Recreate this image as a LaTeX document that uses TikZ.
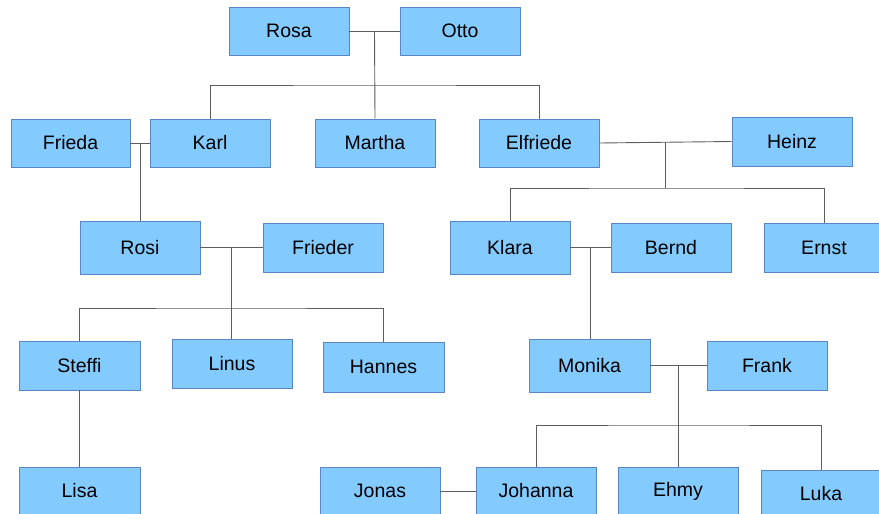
\documentclass[tikz,border=0pt]{standalone}
\usepackage{fontspec}
\setmainfont{Liberation Sans}
\usetikzlibrary{calc}
\definecolor{boxfill}{HTML}{83CAFF}
\definecolor{boxline}{HTML}{5A86C8}
\definecolor{linkcol}{HTML}{5E5E5E}
\begin{document}
\begin{tikzpicture}[x=1pt,y=-1pt,
  person/.style={draw=boxline, fill=boxfill, line width=0.9pt, minimum width=120pt, minimum height=48pt, inner sep=0pt, font=\fontsize{19.5}{23}\selectfont},
  link/.style={draw=linkcol, line width=0.9pt}]
\useasboundingbox (0,0) rectangle (879,514);
\clip (0,0) rectangle (879,514);
% row 1
\node[person] (rosa) at (289,31) {Rosa};
\node[person] (otto) at (460,31) {Otto};
% row 2
\node[person, minimum width=119pt] (frieda) at (70.5,143) {Frieda};
\node[person] (karl) at (210,143) {Karl};
\node[person] (martha) at (375,143) {Martha};
\node[person] (elfriede) at (539,143) {Elfriede};
\node[person, minimum height=49pt] (heinz) at (792,141.5) {Heinz};
% row 3
\node[person, minimum height=53pt] (rosi) at (140,247.5) {Rosi};
\node[person, minimum height=49pt] (frieder) at (323,247.5) {Frieder};
\node[person, minimum height=53pt] (klara) at (510,247.5) {Klara};
\node[person, minimum height=49pt] (bernd) at (671,247.5) {Bernd};
\node[person, minimum height=49pt] (ernst) at (824,247.5) {Ernst};
% row 4
\node[person, minimum width=121pt, minimum height=49pt] (steffi) at (79.5,365.5) {Steffi};
\node[person, minimum height=49pt] (linus) at (232,363.5) {Linus};
\node[person, minimum width=121pt, minimum height=50pt] (hannes) at (383.5,367) {Hannes};
\node[person, minimum width=121pt, minimum height=53pt] (monika) at (589.5,365.5) {Monika};
\node[person, minimum height=49pt] (frank) at (767,365.5) {Frank};
% row 5
\node[person, minimum width=121pt] (lisa) at (79.5,491) {Lisa};
\node[person] (jonas) at (380,491) {Jonas};
\node[person] (johanna) at (536,491) {Johanna};
\node[person] (ehmy) at (678,491) {Ehmy};
\node[person] (luka) at (821,494) {Luka};
% couple midpoints
\coordinate (m1) at ($(rosa.east)!0.5!(otto.west)$);
\coordinate (m2) at ($(frieda.east)!0.5!(karl.west)$);
\coordinate (m3) at ($(rosi.east)!0.5!(frieder.west)$);
\coordinate (m4) at ($(elfriede.east)!0.5!(heinz.west)$);
\coordinate (m5) at ($(klara.east)!0.5!(bernd.west)$);
\coordinate (m6) at ($(monika.east)!0.5!(frank.west)$);
% child bars
\coordinate (b1) at (m1 |- 0,85);
\coordinate (b3) at (m3 |- 0,308);
\coordinate (b4) at (m4 |- 0,188);
\coordinate (b6) at (m6 |- 0,425);
% marriages
\draw[link] (rosa.east) -- (otto.west);
\draw[link] (frieda.east) -- (karl.west);
\draw[link] (rosi.east) -- (frieder.west);
\draw[link] (elfriede.east) -- (heinz.west);
\draw[link] (klara.east) -- (bernd.west);
\draw[link] (monika.east) -- (frank.west);
\draw[link] (jonas.east) -- (johanna.west);
% descent
\draw[link] (m1) -- (martha.north);
\draw[link] (karl.north) |- (b1) -| (elfriede.north);
\draw[link] (m2) -- (rosi.north -| m2);
\draw[link] (m3) -- (linus.north -| m3);
\draw[link] (steffi.north) |- (b3) -| (hannes.north);
\draw[link] (steffi.south) -- (lisa.north);
\draw[link] (m4) -- (b4);
\draw[link] (klara.north) |- (b4) -| (ernst.north);
\draw[link] (m5) -- (monika.north -| m5);
\draw[link] (m6) -- (ehmy.north -| m6);
\draw[link] (johanna.north) |- (b6) -| (luka.north);
\end{tikzpicture}
\end{document}
